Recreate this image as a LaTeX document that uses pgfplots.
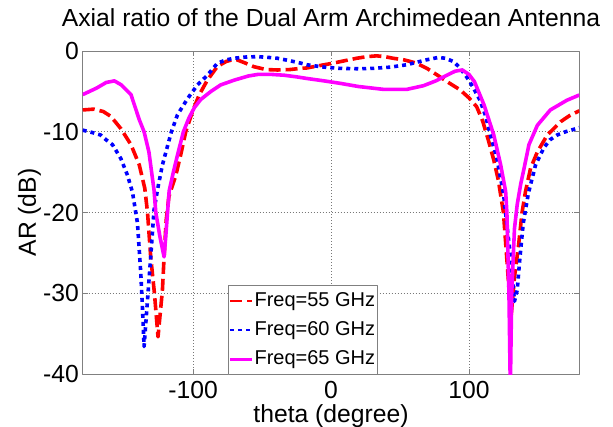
\documentclass[border=0pt]{standalone}
\usepackage{fontspec}
\setmainfont{Liberation Sans}
\usepackage{pgfplots}
\pgfplotsset{compat=1.18}
\definecolor{axgray}{RGB}{128,128,128}
\definecolor{gridgray}{RGB}{120,120,120}
\definecolor{legmag}{RGB}{255,0,255}

\pgfplotstableread{
theta ar
-180 -7.3
-172 -7.2
-165 -7.5
-159.6 -8.1
-152.4 -9.6
-145 -11.6
-139 -14.1
-135 -17
-133 -20
-130.7 -25.5
-128 -30
-125.4 -35.4
-122.2 -29.6
-121 -25.5
-119.5 -21
-117.5 -18
-112.5 -15.4
-109 -12.9
-105.3 -10
-100.4 -7.5
-95.6 -5.45
-89.6 -3.6
-82.3 -1.9
-76 -1.3
-72 -1.1
-68 -1.1
-62 -1.5
-55.8 -1.95
-47 -2.3
-38.8 -2.35
-30 -2.3
-22 -2.15
-17.6 -2.1
-8 -1.8
1.7 -1.5
10 -1.2
18.6 -0.9
26 -0.7
33 -0.6
39 -0.7
45 -0.9
53 -1.1
62 -1.5
70 -2.2
79 -3.2
86 -4.0
93.5 -4.8
100 -5.8
105.6 -6.9
110 -8.7
114 -11
118 -13.5
121.3 -16
125 -20
128 -27
130.5 -33
133 -28
136 -24
138.5 -20
141 -17.4
144.7 -14.5
149.6 -12.5
156.8 -10.4
166.5 -8.75
173 -8
180 -7.4
}\freqA

\pgfplotstableread{
theta ar
-180 -9.8
-173 -10.1
-167 -10.4
-163 -11
-158.4 -11.6
-152.4 -13.3
-147.5 -15.4
-143.9 -17.5
-140.3 -21.3
-137.9 -27.5
-136.7 -31.7
-135.5 -36.6
-133 -30.8
-130.7 -25.5
-128.3 -19.7
-125.8 -17.2
-122.2 -14.1
-115.7 -10
-111.3 -7.9
-104 -5.9
-96.8 -4.2
-89.6 -3.0
-82.3 -1.5
-76 -1.1
-70.3 -0.9
-62 -0.75
-53.3 -0.7
-45 -0.8
-38.8 -0.9
-30 -1.2
-22 -1.5
-17.6 -1.7
-5 -2.0
6.5 -2.15
20 -2.2
30.7 -2.15
43 -2.0
55 -1.7
62 -1.4
69 -1.1
77.8 -0.8
83 -0.9
88.7 -1.3
93 -2.0
98.3 -3.2
103 -4.5
108 -6.1
112 -8
115.2 -10.2
120 -13.1
125 -17.6
127.5 -21.5
130.2 -25.5
133 -31
135 -29.6
137 -25.5
139.4 -21.3
143 -17.7
148.3 -14.1
154.3 -12
158.7 -11
164 -10.4
170 -10
176 -9.7
180 -9.5
}\freqB

\pgfplotstableread{
theta ar
-180 -5.4
-170 -4.6
-163 -3.9
-157 -3.7
-152 -4.2
-145 -5.4
-139 -8.5
-135.5 -10
-132 -12.5
-129.5 -15.7
-128.3 -17.2
-127 -20
-124 -23
-121 -25.5
-119.8 -23
-118.5 -20
-117.3 -17.3
-114 -14.8
-111.3 -12.9
-107 -10
-103 -8.3
-99 -7
-94.4 -6
-87 -5
-80 -4.2
-70 -3.6
-60 -3.1
-53 -2.9
-43 -2.9
-34 -3.0
-25 -3.2
-17.6 -3.4
-5 -3.7
6.5 -4.0
20 -4.4
38 -4.75
55 -4.75
67 -4.3
76 -3.7
84 -3.0
90 -2.5
95.2 -2.35
100 -2.9
104 -3.8
111 -6.7
118 -10.4
123 -14.1
126.6 -17.4
127.5 -20
129 -30
130 -42
131 -30
133 -22
135 -19
137.5 -16.5
140 -14.5
143.5 -11.6
149.6 -9.2
159 -7.3
171 -6.1
180 -5.45
}\freqC

\begin{document}
\begin{tikzpicture}
\useasboundingbox (-82.7bp,-53bp) rectangle (530.3bp,374bp);
\begin{axis}[
  at={(0,0)}, anchor=south west,
  scale only axis, width=496.6bp, height=323bp,
  xmin=-180, xmax=180, ymin=-40, ymax=0,
  xtick={-100,0,100}, xticklabels={-100,0,100},
  ytick={-40,-30,-20,-10,0}, yticklabels={-40,-30,-20,-10,0},
  grid=major,
  major grid style={gridgray, line width=0.6bp, dash pattern=on 1bp off 2bp},
  axis line style={axgray, line width=0.8bp},
  tick style={axgray, line width=0.8bp},
  tick align=inside, major tick length=5bp,
  every tick label/.append style={font=\fontsize{24.7bp}{29bp}\selectfont},
  xticklabel style={anchor=base, yshift=-24.5bp},
  yticklabel style={anchor=east, inner sep=0pt, xshift=-3.7bp},
  title={Axial ratio of the Dual Arm Archimedean Antenna},
  title style={at={([yshift=19bp]axis description cs:0.5,1)}, anchor=base, font=\fontsize{24.7bp}{29bp}\selectfont},
  xlabel={theta (degree)},
  xlabel style={at={([yshift=-48bp]axis description cs:0.5,0)}, anchor=base, inner sep=0pt, font=\fontsize{24.7bp}{29bp}\selectfont},
  ylabel={AR (dB)},
  ylabel style={at={([xshift=-46.7bp]axis description cs:0,0.5)}, anchor=base, rotate=0, font=\fontsize{24.7bp}{29bp}\selectfont},
  legend image code/.code={\draw[#1, line width=2.6bp] (0bp,0bp) -- (22bp,0bp);},
  legend style={at={(axis cs:-75,-40)}, anchor=south west, yshift=-1bp,
    draw=axgray, line width=0.8bp, fill=white,
    font=\fontsize{20bp}{24bp}\selectfont,
    inner xsep=1bp, inner ysep=6bp, row sep=10.6bp,
    cells={anchor=west},
    nodes={inner xsep=1bp, inner ysep=0bp, text height=14.6bp, text depth=4bp}},
  line join=round,
]
\addplot[red, line width=3.6bp, dash pattern=on 12bp off 5bp] table[x=theta, y=ar] {\freqA};
\addlegendentry{Freq=55 GHz}
\addplot[blue, line width=3.6bp, dash pattern=on 4bp off 4bp] table[x=theta, y=ar] {\freqB};
\addlegendentry{Freq=60 GHz}
\addplot[legmag, line width=3.6bp] table[x=theta, y=ar] {\freqC};
\addlegendentry{Freq=65 GHz}
\end{axis}
\end{tikzpicture}
\end{document}
